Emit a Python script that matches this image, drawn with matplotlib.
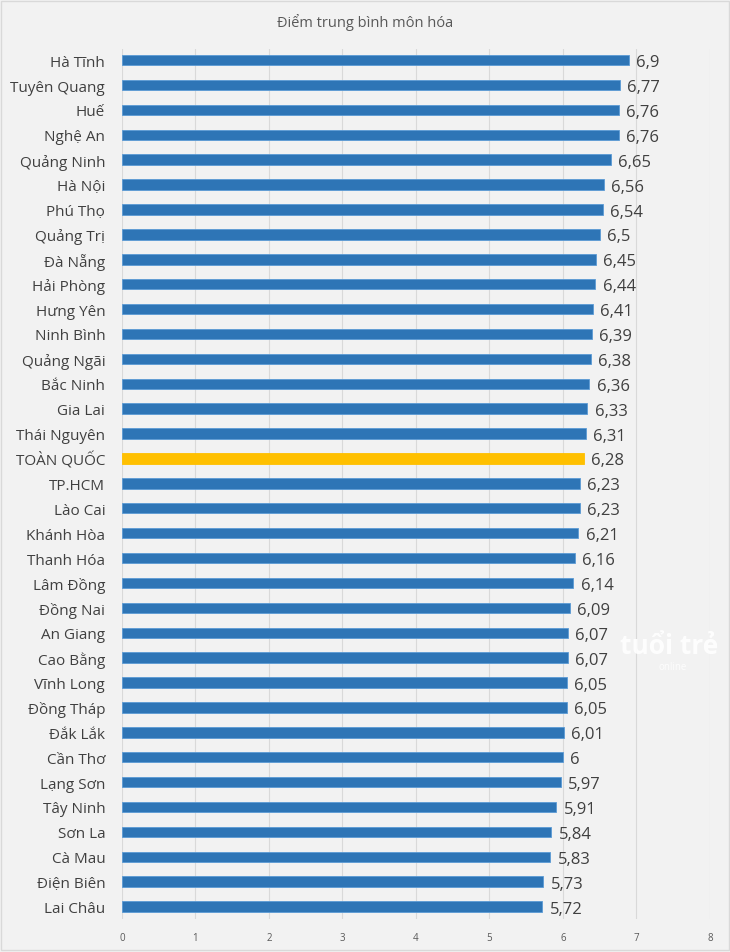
import matplotlib.pyplot as plt
from matplotlib.patches import Rectangle

# data
provinces = ["Hà Tĩnh", "Tuyên Quang", "Huế", "Nghệ An", "Quảng Ninh", "Hà Nội",
             "Phú Thọ", "Quảng Trị", "Đà Nẵng", "Hải Phòng", "Hưng Yên", "Ninh Bình",
             "Quảng Ngãi", "Bắc Ninh", "Gia Lai", "Thái Nguyên", "TOÀN QUỐC", "TP.HCM",
             "Lào Cai", "Khánh Hòa", "Thanh Hóa", "Lâm Đồng", "Đồng Nai", "An Giang",
             "Cao Bằng", "Vĩnh Long", "Đồng Tháp", "Đắk Lắk", "Cần Thơ", "Lạng Sơn",
             "Tây Ninh", "Sơn La", "Cà Mau", "Điện Biên", "Lai Châu"]
scores = [6.9, 6.77, 6.76, 6.76, 6.65, 6.56, 6.54, 6.5, 6.45, 6.44, 6.41, 6.39,
          6.38, 6.36, 6.33, 6.31, 6.28, 6.23, 6.23, 6.21, 6.16, 6.14, 6.09, 6.07,
          6.07, 6.05, 6.05, 6.01, 6.0, 5.97, 5.91, 5.84, 5.83, 5.73, 5.72]
highlight = "TOÀN QUỐC"
x_ticks = [0, 1, 2, 3, 4, 5, 6, 7, 8]

BG = "#f2f2f2"
BLUE = "#2e75b6"
YELLOW = "#ffc000"

plt.rcParams['font.family'] = ['Open Sans', 'DejaVu Sans']

fig = plt.figure(figsize=(7.3, 9.53), dpi=100, facecolor=BG)
ax = fig.add_axes([0.167, 0.0346, 0.8056, 0.913])
ax.set_facecolor(BG)

colors = [YELLOW if p == highlight else BLUE for p in provinces]
ypos = list(range(len(provinces)))
ax.barh(ypos, scores, height=0.42, color=colors, edgecolor="#5b9bd5",
        linewidth=0.6, zorder=3)
# no light edge on the yellow bar
for bar, p in zip(ax.patches, provinces):
    if p == highlight:
        bar.set_edgecolor(YELLOW)

for y, v in zip(ypos, scores):
    ax.text(v + 0.1, y + 0.08, ("%g" % v).replace(".", ","), va="center",
            ha="left", fontsize=12, color="#404040")

ax.set_ylim(len(provinces) - 0.5, -0.45)
ax.set_xlim(0, 8)
ax.set_yticks(ypos)
ax.set_yticklabels(provinces, fontsize=11, color="#404040")
ax.set_xticks(x_ticks)
ax.set_xticklabels([str(t) for t in x_ticks], fontsize=7, color="#595959")
ax.tick_params(axis="both", length=0)
ax.tick_params(axis="y", pad=12)
ax.tick_params(axis="x", pad=9)
ax.grid(axis="x", color="#d9d9d9", linewidth=0.8, zorder=0)
for s in ax.spines.values():
    s.set_visible(False)

fig.text(0.5, 0.976, "Điểm trung bình môn hóa", ha="center", va="center",
         fontsize=10.5, color="#595959")

# watermark
fig.text(0.917, 0.322, "tuổi trẻ", ha="center", va="center", fontsize=19,
         fontweight="bold", color="white", alpha=0.9)
fig.text(0.921, 0.300, "online", ha="center", va="center", fontsize=7,
         color="white", alpha=0.9)

fig.patches.append(Rectangle((0.002, 0.002), 0.996, 0.996, transform=fig.transFigure,
                             fill=False, edgecolor="#d9d9d9", linewidth=1))

fig.savefig("out.png", dpi=100, facecolor=BG)
